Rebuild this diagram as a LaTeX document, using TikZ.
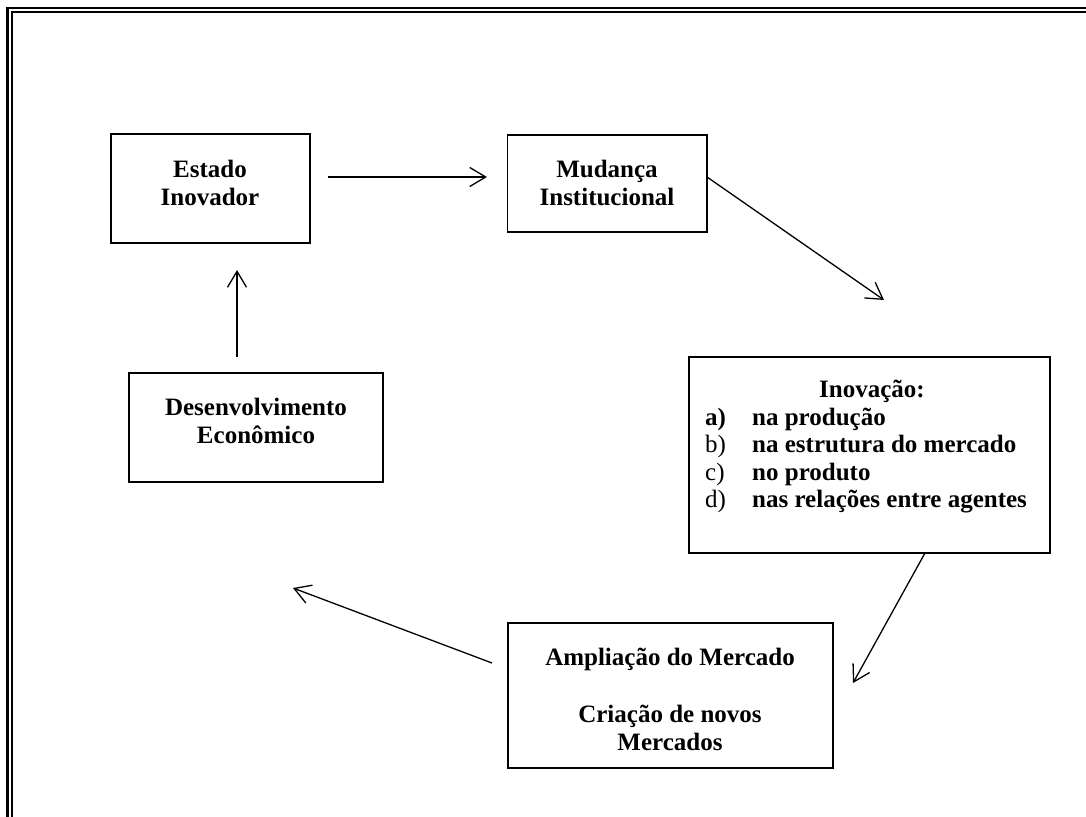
\documentclass[tikz,border=0pt]{standalone}
\usepackage{fontspec}
\setmainfont{Liberation Serif}
\usetikzlibrary{arrows.meta}
\begin{document}
\begin{tikzpicture}[x=1pt,y=-1pt,
  boxstyle/.style={draw=black,line width=1.6pt,rectangle,inner sep=0pt},
  txtstyle/.style={inner sep=0pt,anchor=base,font=\fontsize{25}{28.5}\selectfont\bfseries},
  arr/.style={line width=1.3pt,-{Straight Barb[length=16pt,width=19pt,line width=1.3pt]}}]
\useasboundingbox (0,0) rectangle (1086,816);
\fill[white] (0,0) rectangle (1086,816);
\begin{scope}
\clip (0,0) rectangle (1086,816);
\draw[line width=2.8pt] (7.5,8) rectangle (1200,1000);
\draw[line width=2.2pt] (11.8,12) rectangle (1200,1000);
\end{scope}
% boxes
\node[boxstyle,minimum width=199pt,minimum height=109pt] (est) at (210.2,188.5) {};
\node[boxstyle,minimum width=199.4pt,minimum height=97pt] (mud) at (607.3,183.5) {};
\node[boxstyle,minimum width=361pt,minimum height=196pt] (inov) at (869.5,455) {};
\node[boxstyle,minimum width=325pt,minimum height=145pt] (amp) at (670.5,695.5) {};
\node[boxstyle,minimum width=254pt,minimum height=109pt] (des) at (256,427.5) {};
% texts
\node[txtstyle] (estT) at (210,177) {\begin{tabular}[t]{@{}c@{}}Estado\\Inovador\end{tabular}};
\node[txtstyle] (mudT) at (607,177) {\begin{tabular}[t]{@{}c@{}}Mudança\\Institucional\end{tabular}};
\node[txtstyle] (desT) at (256,415) {\begin{tabular}[t]{@{}c@{}}Desenvolvimento\\Econômico\end{tabular}};
\node[txtstyle] (ampT) at (670,665) {\begin{tabular}[t]{@{}c@{}}Ampliação do Mercado\\[0pt]\mbox{}\\Criação de novos\\Mercados\end{tabular}};
\node[txtstyle] (inovT) at (872,397) {Inovação:};
\node[txtstyle,anchor=base west,font=\fontsize{25}{27.5}\selectfont] (inovL) at (705,425)
  {\begin{tabular}[t]{@{}p{47pt}@{}l@{}}\textbf{a)} & \textbf{na produção}\\
   b) & \textbf{na estrutura do mercado}\\
   c) & \textbf{no produto}\\
   d) & \textbf{nas relações entre agentes}\end{tabular}};
% connector end points
\coordinate (a1s) at (328,177);
\coordinate (a1e) at (487,177);
\coordinate (a2s) at (707,177);
\coordinate (a2e) at (884,300);
\coordinate (a3s) at (925,553);
\coordinate (a3e) at (853,683);
\coordinate (a4s) at (492,663);
\coordinate (a4e) at (293,588);
\coordinate (a5s) at (237,357);
\coordinate (a5e) at (237,270);
\draw[arr] (a1s) -- (a1e);
\draw[arr] (a2s) -- (a2e);
\draw[arr] (a3s) -- (a3e);
\draw[arr] (a4s) -- (a4e);
\draw[arr] (a5s) -- (a5e);
\end{tikzpicture}
\end{document}
